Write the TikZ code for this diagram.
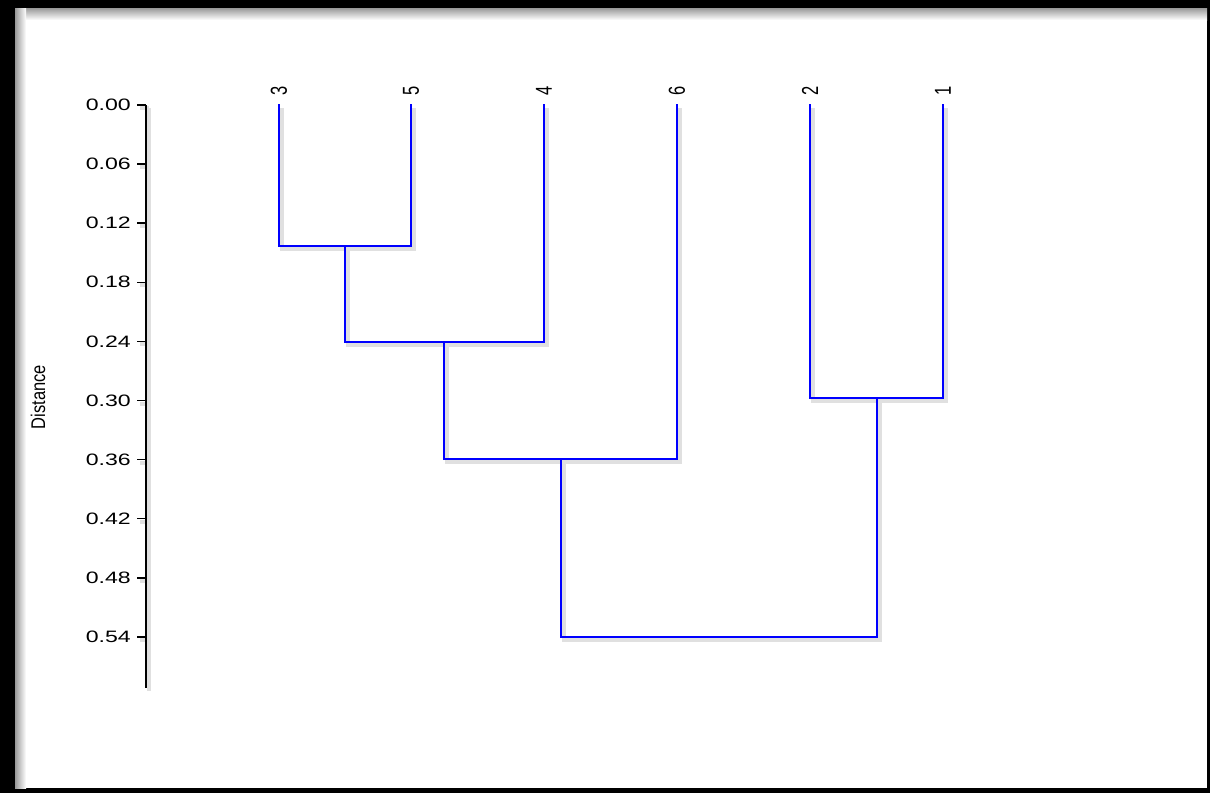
\documentclass[tikz,border=0pt]{standalone}
\usepackage{fontspec}
\setmainfont{Liberation Sans}
\usepackage{graphicx}
\usetikzlibrary{calc}
\definecolor{treecol}{RGB}{0,0,255}
\tikzset{
  % soft grey shadow under lines
  softshadow/.style={preaction={draw=black!12, line width=4pt, transform canvas={shift={(3pt,-3pt)}}}},
  % dendrogram branch
  branch/.style={draw=treecol, line width=2pt, line cap=rect, softshadow},
  % axis line
  axisline/.style={draw=black, line width=2pt, softshadow},
  % tick label
  ticklab/.style={anchor=east, inner sep=0pt, font=\fontsize{16.5}{16.5}\selectfont},
  % leaf label
  leaflab/.style={anchor=west, inner sep=0pt, rotate=90, font=\fontsize{16.5}{16.5}\selectfont},
}
\newcommand{\hwide}[1]{\scalebox{1.4}[1]{#1}}
\newcommand{\vwide}[1]{\scalebox{1}[1.4]{#1}}
\begin{document}
\begin{tikzpicture}[x=1pt, y=-1pt]
  \useasboundingbox (0,0) rectangle (1210,793);
  % frame
  \fill[black] (0,0) rectangle (1210,793);
  \fill[white] (15,8) rectangle (1207,788);
  \shade[top color=black!40, bottom color=white] (15,8) rectangle (1207,20);
  \shade[left color=black!40, right color=white] (15,8) rectangle (26,788);
  % axis
  \coordinate (atop) at (146,105);
  \coordinate (abot) at (146,688);
  \foreach \v/\lab [count=\i from 0] in {0/0.00,1/0.06,2/0.12,3/0.18,4/0.24,5/0.30,6/0.36,7/0.42,8/0.48,9/0.54} {
    \coordinate (t\i) at (146,{105+59.1*\v});
    \draw[axisline, line width=1.5pt] (t\i) -- ++(-9,0);
    \node[ticklab] (tl\i) at ($(t\i)+(-15,0)$) {\hwide{\lab}};
  }
  \draw[axisline] (atop) -- (abot);
  \node[rotate=90, inner sep=0pt, font=\fontsize{16.5}{16.5}\selectfont] (dist) at (38,397) {\scalebox{1}[1.2]{Distance}};
  % leaves
  \foreach \n/\x in {3/279,5/411,4/544,6/677,2/810,1/943} {
    \coordinate (l\n) at (\x,105);
    \node[leaflab] (ll\n) at (\x,96) {\vwide{\n}};
  }
  % merges
  \coordinate (m35) at (345,246);
  \coordinate (m354) at (444,342);
  \coordinate (m3546) at (561,459);
  \coordinate (m21) at (877,398);
  \coordinate (root) at (719,637);
  \draw[branch] (l3) |- (m35) -| (l5);
  \draw[branch] (m35) |- (m354) -| (l4);
  \draw[branch] (m354) |- (m3546) -| (l6);
  \draw[branch] (l2) |- (m21) -| (l1);
  \draw[branch] (m3546) |- (root) -| (m21);
\end{tikzpicture}
\end{document}
